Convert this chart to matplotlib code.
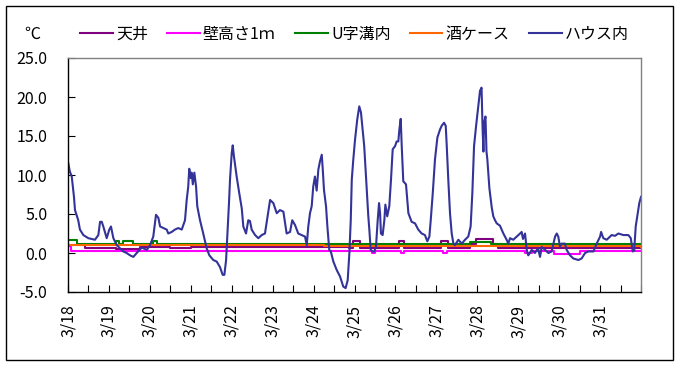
import matplotlib
matplotlib.use("Agg")
import matplotlib.pyplot as plt
from matplotlib.patches import Rectangle
from matplotlib.ticker import MultipleLocator, FixedLocator, FixedFormatter

plt.rcParams['font.family'] = ['Noto Sans CJK JP', 'DejaVu Sans']
plt.rcParams['axes.unicode_minus'] = False

# ---- data (hours since 3/18 0:00, degC) ----
house_t = [0.2, 1.0, 2.2, 3.5, 4.1, 6.0, 7.0, 9.0, 11.9, 15.8, 17.8, 18.8, 19.8, 20.7, 22.7,
           24.2, 25.2, 26.6, 28.6, 30.5, 32.4, 34.4, 36.4, 38.3, 40.3, 43.2, 46.2, 48.1, 50.0,
           51.6, 53.0, 54.0, 55.9, 57.9, 58.8, 60.8, 62.7, 64.7, 66.7, 68.6, 69.6, 70.5, 71.1,
           72.0, 72.5, 73.2, 74.1, 75.1, 75.8, 77.4, 79.3, 81.3, 82.9, 85.2, 87.2, 89.1, 90.7,
           91.7, 92.7, 93.4, 94.4, 95.0, 96.0, 96.6, 97.3, 98.9, 100.4, 101.9, 102.8, 104.4,
           105.7, 106.7, 107.7, 109.7, 111.6, 113.6, 115.5, 116.9, 118.5, 120.4, 122.4, 124.3,
           126.3, 127.3, 128.2, 130.2, 131.5, 133.1, 135.0, 137.0, 139.0, 140.0, 140.9, 141.9,
           142.9, 143.8, 144.8, 145.8, 146.8, 147.8, 148.8, 149.4, 150.1, 151.3, 152.1, 153.2,
           154.1, 155.6, 157.6, 159.5, 161.4, 162.8, 164.0, 165.0, 165.8, 166.4, 167.3, 168.3,
           169.6, 170.8, 171.8, 172.8, 173.7, 174.6, 175.5, 176.1, 176.7, 177.5, 178.7, 179.6,
           180.6, 181.6, 182.4, 183.0, 183.5, 184.5, 185.5, 186.1, 187.2, 188.4, 189.4, 190.4,
           191.8, 192.7, 193.7, 194.3, 195.1, 195.7, 196.6, 198.2, 199.6, 201.5, 203.5, 205.4,
           207.4, 209.3, 210.7, 211.9, 212.7, 213.9, 215.2, 216.6, 218.1, 219.1, 220.5, 221.5,
           222.1, 223.0, 224.0, 225.0, 226.0, 226.9, 228.9, 230.9, 232.8, 234.7, 236.1, 237.1,
           238.1, 239.3, 240.4, 241.6, 242.5, 243.1, 243.6, 244.0, 244.8, 245.4, 245.9, 247.1,
           248.5, 249.4, 250.4, 251.4, 253.3, 255.3, 257.2, 258.2, 259.2, 261.1, 263.1, 265.1,
           266.0, 266.8, 268.0, 269.0, 269.9, 271.9, 273.8, 275.6, 276.8, 277.8, 279.7, 281.7,
           283.6, 285.6, 286.6, 287.5, 288.5, 289.5, 291.4, 292.4, 294.4, 296.3, 299.3, 301.2,
           303.2, 305.1, 308.1, 310.0, 312.0, 312.6, 313.9, 315.9, 317.8, 318.8, 320.8, 322.7,
           325.7, 328.6, 330.0, 331.2, 332.0, 332.9, 334.1, 335.0, 336.0]
house_v = [11.5, 10.5, 9.8, 7.2, 5.5, 4.2, 3.0, 2.3, 1.9, 1.7, 2.3, 4.0, 4.0, 3.4, 1.9,
           3.0, 3.4, 1.9, 1.0, 0.6, 0.2, 0.0, -0.3, -0.5, 0.0, 0.7, 0.4, 1.0, 2.1,
           4.9, 4.5, 3.4, 3.2, 3.0, 2.5, 2.7, 3.0, 3.2, 3.0, 4.2, 6.8, 8.5, 10.8,
           9.6, 10.3, 8.8, 10.3, 8.5, 6.0, 4.2, 2.5, 0.6, -0.3, -0.9, -1.1, -1.8, -2.8,
           -2.8, -0.9, 2.1, 6.4, 9.4, 12.8, 13.8, 12.4, 9.8, 7.7, 5.7, 3.4, 2.5,
           4.2, 4.1, 3.0, 2.3, 1.9, 2.3, 2.5, 4.5, 6.8, 6.4, 5.1, 5.5,
           5.3, 3.8, 2.5, 2.7, 4.2, 3.6, 2.5, 2.3, 2.1, 1.0, 3.4, 5.1,
           6.0, 8.5, 9.8, 8.0, 10.7, 11.8, 12.6, 10.7, 8.1, 6.0, 3.4, 0.4,
           0.2, -1.1, -2.2, -3.0, -4.3, -4.5, -3.5, 0.0, 4.2, 9.4, 12.0, 14.5,
           17.1, 18.8, 18.0, 15.8, 13.7, 10.3, 6.8, 4.7, 3.0, 0.4, 0.2, 0.2,
           0.8, 4.2, 6.4, 5.1, 2.5, 2.3, 4.2, 6.2, 4.7, 6.0, 9.4, 13.3,
           13.7, 14.3, 14.3, 15.8, 17.2, 13.7, 9.2, 8.8, 5.1, 4.0, 3.8, 3.0,
           2.5, 2.3, 1.5, 2.1, 4.2, 7.7, 12.0, 14.8, 15.8, 16.3, 16.7, 16.3,
           13.7, 9.4, 5.1, 2.5, 1.2, 1.0, 1.7, 1.2, 1.7, 2.1, 3.4, 7.7,
           13.7, 16.3, 18.4, 20.8, 21.2, 16.0, 13.0, 16.7, 17.5, 13.0, 12.0, 8.3,
           5.8, 4.7, 4.2, 3.8, 3.5, 2.5, 1.7, 1.2, 1.9, 1.7, 2.1, 2.5,
           2.7, 1.8, 2.5, 0.4, -0.3, 0.4, 0.0, 0.6, -0.5, 0.8, 0.4, 0.0,
           0.2, 2.1, 2.5, 2.1, 0.8, 1.2, 1.2, 0.4, -0.3, -0.7, -0.9, -0.7,
           0.0, 0.2, 0.2, 1.2, 2.1, 2.7, 1.9, 1.7, 2.1, 2.3, 2.2, 2.5,
           2.3, 2.3, 1.9, 0.2, 0.3, 3.4, 5.1, 6.4, 7.2]

ceil_t = [0, 10, 28, 42, 60, 72, 110, 165, 167, 171, 192, 194, 197, 217, 219, 223,
          236, 239, 247, 249, 252, 336]
ceil_v = [1.05, 0.7, 0.55, 0.75, 0.6, 0.8, 0.75, 0.7, 1.5, 0.65, 0.65, 1.5, 0.65, 0.65, 1.5, 0.65,
          1.2, 1.85, 1.85, 1.2, 0.6, 0.6]

wall_t = [0, 2, 178, 180, 195, 197, 220, 222, 268, 272, 285, 300, 336]
wall_v = [0.9, 0.2, 0.0, 0.2, 0.0, 0.2, 0.0, 0.2, 0.0, 0.2, -0.1, 0.2, 0.2]

ugutter_t = [0, 5.5, 28, 30, 32, 38, 50, 52, 236, 248, 336]
ugutter_v = [1.7, 1.2, 1.5, 1.2, 1.5, 1.2, 1.6, 1.2, 1.35, 1.1, 1.05]

sake_t = [0, 40, 150, 236, 336]
sake_v = [1.0, 1.0, 0.95, 0.85, 0.8]

series_names = ['天井', '壁高さ1ｍ', 'U字溝内', '酒ケース', 'ハウス内']
series_colors = ['#800080', '#FF00FF', '#008000', '#FF6600', '#333399']

day_labels = ['3/18', '3/19', '3/20', '3/21', '3/22', '3/23', '3/24', '3/25',
              '3/26', '3/27', '3/28', '3/29', '3/30', '3/31']

# ---- figure ----
fig = plt.figure(figsize=(6.81, 3.67), dpi=100)
ax = fig.add_axes([68/681, 1-292/367, (641-68)/681, (292-58)/367])

data = [(ceil_t, ceil_v, 'steps-post'), (wall_t, wall_v, 'steps-post'),
        (ugutter_t, ugutter_v, 'steps-post'), (sake_t, sake_v, 'steps-post'),
        (house_t, house_v, 'default')]
handles = []
for (t, v, ds), name, c in zip(data, series_names, series_colors):
    h, = ax.plot(t, v, color=c, lw=1.5, drawstyle=ds, label=name)
    handles.append(h)

ax.set_xlim(0, 336)
ax.set_ylim(-5, 25)
ax.yaxis.set_major_locator(MultipleLocator(5))
ax.yaxis.set_major_formatter(plt.FuncFormatter(lambda v, p: f'{v:.1f}'))
major = [24*i for i in range(len(day_labels))]
ax.xaxis.set_major_locator(FixedLocator(major))
ax.xaxis.set_major_formatter(FixedFormatter(day_labels))
ax.xaxis.set_minor_locator(MultipleLocator(12))
ax.tick_params(axis='x', which='both', direction='in', length=5, width=0.8, color='black',
               labelsize=11.5, pad=9, labelrotation=90)
ax.tick_params(axis='y', direction='in', length=5, width=0.8, labelsize=11.5, pad=15)
for s in ['left', 'bottom']:
    ax.spines[s].set_color('black')
    ax.spines[s].set_linewidth(1.0)
for s in ['top', 'right']:
    ax.spines[s].set_color('#808080')
    ax.spines[s].set_linewidth(1.0)

fig.legend(handles=handles, loc='center left', bbox_to_anchor=(80/681, 1-34/367),
           ncol=5, frameon=False, fontsize=11.5, handlelength=2.05, handletextpad=0.2,
           columnspacing=1.2, borderpad=0, borderaxespad=0)
fig.text(32/681, 1-34/367, '℃', ha='center', va='center', fontsize=11.5)

fig.patches.append(Rectangle((6/681, 7/367), (673-6)/681, (360-6)/367,
                             transform=fig.transFigure, fill=False, edgecolor='black',
                             lw=1.0))

fig.savefig('out.png', dpi=100)
